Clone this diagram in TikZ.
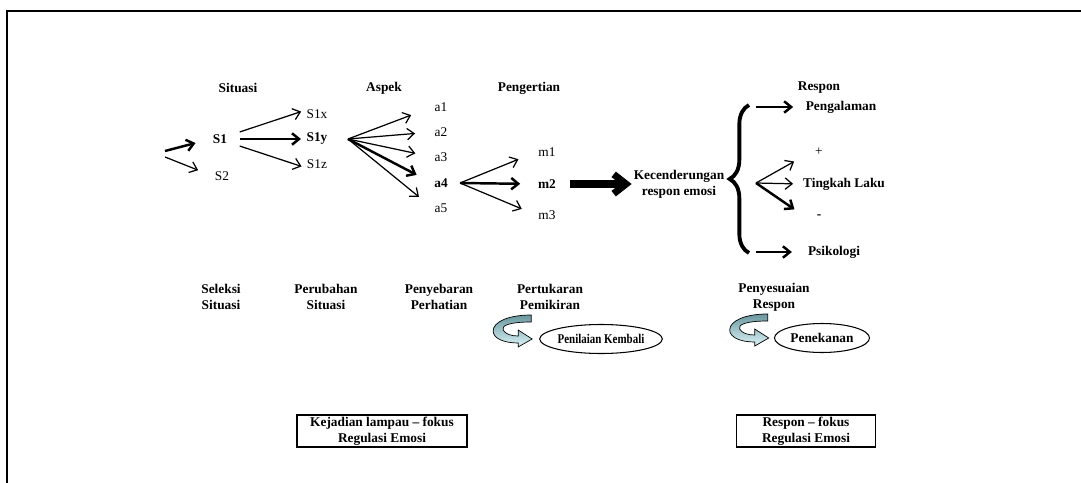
\documentclass[tikz,border=0pt]{standalone}
\usepackage{fontspec}
\setmainfont{Liberation Serif}
\usetikzlibrary{arrows.meta,shapes.geometric,decorations.pathreplacing}
\tikzset{
  lbl/.style={font=\fontsize{7.6}{9}\selectfont, inner sep=1pt, align=center},
  bl/.style={lbl, font=\fontsize{7.6}{9}\selectfont\bfseries},
  arr/.style={-{Straight Barb[length=4pt,width=6.5pt]}, line width=0.7pt},
  tarr/.style={arr, line width=1.4pt},
  bigarr/.style={-{Straight Barb[length=7pt,width=11pt]}, line width=4pt},
  oval/.style={bl, draw, ellipse, line width=0.6pt, minimum height=0.58cm, inner sep=0pt},
  fbox/.style={bl, draw, line width=0.8pt, minimum height=0.64cm, inner sep=0pt},
  curl/.pic={
    \draw[line width=0.4pt, top color={rgb,255:red,105;green,150;blue,158},
      bottom color={rgb,255:red,220;green,245;blue,248}]
      (-1,-24) -- (-1,-17) .. controls (-24,-17) and (-31,-13) .. (-29,-9)
      .. controls (-27,-5) and (-21,-3) .. (-14,-3) -- (-14,-9) -- (0,0)
      -- (-14,8) -- (-14,4) .. controls (-29,4) and (-39,-1) .. (-39,-8)
      .. controls (-39,-17) and (-24,-24) .. (-1,-24) -- cycle;
  }
}
\begin{document}
\begin{tikzpicture}[x=0.02cm, y=-0.02cm]
      \useasboundingbox (0,0) rectangle (1081,483);
      \draw[line width=1.2pt] (1081,11) -- (7,11) -- (7,483);
      % headings
      \node[bl] (hSit) at (238,88) {Situasi};
      \node[bl] (hAsp) at (384,88) {Aspek};
      \node[bl] (hPen) at (529,88) {Pengertian};
      \node[bl] (hRes) at (819,88) {Respon};
      % chain of stages
      \coordinate (in1) at (165,151);
      \coordinate (in2) at (165,157);
      \node[bl] (S1) at (220,139) {S1};
      \node[lbl] (S2) at (222,176) {S2};
      \node[lbl] (S1x) at (317,114) {S1x};
      \node[bl] (S1y) at (317,139) {S1y};
      \node[lbl] (S1z) at (317,164) {S1z};
      \node[lbl] (a1) at (441,107) {a1};
      \node[lbl] (a2) at (441,132) {a2};
      \node[lbl] (a3) at (441,157) {a3};
      \node[bl] (a4) at (441,183) {a4};
      \node[lbl] (a5) at (441,208) {a5};
      \node[lbl] (m1) at (547,152) {m1};
      \node[bl] (m2) at (547,184) {m2};
      \node[lbl] (m3) at (547,215) {m3};
      \node[bl] (ker) at (679,184) {Kecenderungan\\respon emosi};
      \coordinate (hS1y) at (348,139);
      \coordinate (ha4) at (460,183);
      % responses
      \coordinate (bTop) at (756,107);
      \coordinate (bMid) at (756,183);
      \coordinate (bBot) at (756,252);
      \node[bl] (peng) at (841,107) {Pengalaman};
      \node[lbl] (plus) at (819,152) {+};
      \node[bl] (ting) at (844,184) {Tingkah Laku};
      \node[bl] (minus) at (819,217) {-};
      \node[bl] (psi) at (834,252) {Psikologi};
      % strategies
      \node[bl] (sel) at (221,297) {Seleksi\\Situasi};
      \node[bl] (per) at (326,297) {Perubahan\\Situasi};
      \node[bl] (pny) at (439,297) {Penyebaran\\Perhatian};
      \node[bl] (pert) at (550,297) {Pertukaran\\Pemikiran};
      \node[bl] (pnys) at (774,297) {Penyesuaian\\Respon};
      \node[oval, minimum width=1.8cm] (ell1) at (601,339) {\scalebox{0.82}[1]{Penilaian Kembali}};
      \node[oval, minimum width=1.9cm] (ell2) at (822,338) {Penekanan};
      \pic at ([xshift=-4pt]ell1.west) {curl};
      \pic at ([xshift=-3pt]ell2.west) {curl};
      \node[fbox, minimum width=3.4cm] (box1) at (382,431) {Kejadian lampau -- fokus\\Regulasi Emosi};
      \node[fbox, minimum width=2.78cm] (box2) at (806,431) {Respon -- fokus\\Regulasi Emosi};
      \begin{scope}[arr]
        \draw[tarr, shorten >=9pt] (in1) -- (S1.west);
        \draw[shorten >=9pt] (in2) -- (S2.west);
        \draw[shorten >=2pt] ([shift={(6pt,4pt)}]S1.east) -- ([yshift=2pt]S1x.west);
        \draw[tarr, shorten >=2pt, shorten <=6pt] (S1.east) -- (S1y.west);
        \draw[shorten >=2pt] ([shift={(6pt,-4pt)}]S1.east) -- ([yshift=-2pt]S1z.west);
        \draw[shorten >=13pt] (hS1y) -- (a1.west);
        \draw[shorten >=10pt] (hS1y) -- (a2.west);
        \draw[shorten >=10pt] (hS1y) -- (a3.west);
        \draw[tarr, shorten >=10pt] (hS1y) -- (a4.west);
        \draw[shorten >=10pt] (hS1y) -- (a5.west);
        \draw[shorten >=11pt] (ha4) -- (m1.west);
        \draw[tarr, shorten >=9pt] (ha4) -- (m2.west);
        \draw[shorten >=9pt] (ha4) -- (m3.west);
        \draw[bigarr] ([xshift=7pt]m2.east) -- (ker.west);
        \draw[tarr, shorten >=6pt] (bTop) -- (peng.west);
        \draw[shorten >=4.5pt] (bMid) -- ([yshift=15pt]ting.west);
        \draw[shorten >=4.5pt] (bMid) -- (ting.west);
        \draw[tarr, shorten >=4.5pt] (bMid) -- ([yshift=-17pt]ting.west);
        \draw[tarr, shorten >=8pt] (bBot) -- (psi.west);
      \end{scope}
      \draw[line width=2.2pt, decorate, decoration={brace, amplitude=11pt}] (749,253) -- (749,105);
    \end{tikzpicture}
\end{document}
